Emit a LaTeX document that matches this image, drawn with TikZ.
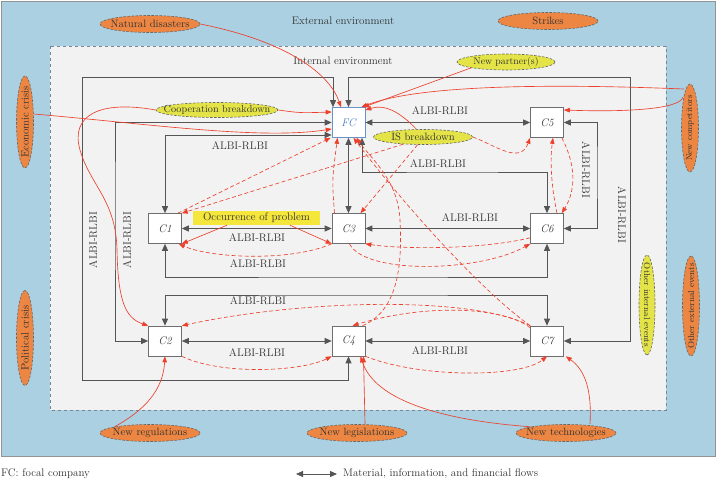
\documentclass[tikz,border=0pt]{standalone}
\usetikzlibrary{arrows.meta,shapes.geometric}
\definecolor{bgblue}{RGB}{170,208,226}
\definecolor{ingray}{RGB}{242,242,242}
\definecolor{lgray}{RGB}{85,85,85}
\definecolor{redc}{RGB}{236,64,44}
\definecolor{orangec}{RGB}{236,134,66}
\definecolor{yellowc}{RGB}{228,228,72}
\definecolor{occy}{RGB}{245,230,60}
\definecolor{txt}{RGB}{50,50,50}
\definecolor{fcblue}{RGB}{70,120,190}
\definecolor{dashb}{RGB}{120,135,150}
\begin{document}
\begin{tikzpicture}[x=1pt,y=-1pt, font=\fontsize{11}{13}\selectfont, text=txt,
 box/.style={draw=lgray!85, fill=white, minimum width=33pt, minimum height=30pt, inner sep=0pt, font=\fontsize{11}{13}\selectfont\itshape, line width=0.6pt},
 flow/.style={draw=lgray, line width=0.8pt, {Triangle[length=7pt,width=6pt]}-{Triangle[length=7pt,width=6pt]}},
 ell/.style={ellipse, draw=gray!80!black, dash pattern=on 2.5pt off 1.5pt, line width=0.6pt, inner sep=0pt},
 ora/.style={ell, fill=orangec},
 yel/.style={ell, fill=yellowc},
 etxt/.style={font=\fontsize{10.6}{12}\selectfont, inner sep=0pt},
 ext/.style={draw=redc, line width=0.65pt, -{Triangle[length=6pt,width=4.5pt]}},
 intd/.style={ext, dash pattern=on 4pt off 2.5pt},
 lab/.style={inner sep=0pt}]
\path[use as bounding box] (0,0) rectangle (717,481);
% environments
\draw[fill=bgblue, draw=gray!85, line width=1pt] (1,2) rectangle (715,456);
\draw[fill=ingray, draw=dashb, dashed, line width=0.8pt] (50,46) rectangle (666,410);
\node[lab] (extenv) at (343,21) {External environment};
\node[lab] (intenv) at (343,61) {Internal environment};

% company nodes
\node[box, draw=fcblue!80, text=fcblue] (FC) at (348.5,122.5) {FC};
\node[box] (C5) at (547,122.5) {C5};
\node[box] (C1) at (165,228.5) {C1};
\node[box] (C3) at (348.5,228.5) {C3};
\node[box] (C6) at (547,228.5) {C6};
\node[box] (C2) at (165,341) {C2};
\node[box] (C4) at (348.5,341) {C4};
\node[box] (C7) at (547,341) {C7};

% grey flows
\draw[flow] (FC.east) -- (C5.west);
\draw[flow] (C1.east) -- (C3.west);
\draw[flow] (C3.east) -- (C6.west);
\draw[flow] (C2.east) -- (C4.west);
\draw[flow] (C4.east) -- (C7.west);
\draw[flow] (FC.south) -- (C3.north);
\draw[flow] (C1.north) |- (FC.west |- 0,135);
\draw[flow] (C2.west) -| (115,200) |- (FC.west);
\draw[flow] (C4.south) |- (82,380) |- (333,77) -- (FC.north -| 333,0);
\draw[flow] (FC.north) |- (630,77) |- (C7.east);
\draw[flow] (C5.east) -| (597,170) |- (C6.east);
\draw[flow] (FC.south -| 362,0) |- (450,172) -| (C6.north);
\draw[flow] (C1.south) |- (350,277) -| (C6.south);
\draw[flow] (C2.north) |- (350,295) -| (C7.north);

% flow labels
\node[lab] (t1) at (440,111) {ALBI-RLBI};
\node[lab] (t2) at (240,146) {ALBI-RLBI};
\node[lab] (t3) at (438,164) {ALBI-RLBI};
\node[lab] (t4) at (257,238) {ALBI-RLBI};
\node[lab] (t5) at (470,218) {ALBI-RLBI};
\node[lab] (t6) at (258,264) {ALBI-RLBI};
\node[lab] (t7) at (258,301) {ALBI-RLBI};
\node[lab] (t8) at (257,353) {ALBI-RLBI};
\node[lab] (t9) at (440,351) {ALBI-RLBI};
\node[lab, rotate=90] (t10) at (93,240) {ALBI-RLBI};
\node[lab, rotate=90] (t11) at (127,240) {ALBI-RLBI};
\node[lab, rotate=-90] (t12) at (586,170) {ALBI-RLBI};
\node[lab, rotate=-90] (t13) at (622,215) {ALBI-RLBI};

% occurrence of problem
\node[fill=occy, minimum width=127pt, minimum height=14pt, inner sep=0pt, font=\fontsize{11}{13}\selectfont] (occ) at (256.5,218) {Occurrence of problem};

% event ellipses
\node[ora, minimum width=100pt, minimum height=17pt] (nat) at (150,24) {};
\node[etxt] (natt) at (nat) {Natural disasters};
\node[ora, minimum width=100pt, minimum height=17pt] (str) at (548,21) {};
\node[etxt] (strt) at (str) {Strikes};
\node[ora, minimum width=92pt, minimum height=17pt, rotate=90] (eco) at (25,122) {};
\node[etxt, rotate=90] (ecot) at (eco) {Economic crisis};
\node[ora, minimum width=95pt, minimum height=17pt, rotate=90] (pol) at (25,338) {};
\node[etxt, rotate=90] (polt) at (pol) {Political crisis};
\node[ora, minimum width=100pt, minimum height=17pt] (reg) at (150,433) {};
\node[etxt] (regt) at (reg) {New regulations};
\node[ora, minimum width=100pt, minimum height=17pt] (leg) at (357,433) {};
\node[etxt] (legt) at (leg) {New legislations};
\node[ora, minimum width=100pt, minimum height=17pt] (tech) at (566,433) {};
\node[etxt] (techt) at (tech) {New technologies};
\node[ora, minimum width=88pt, minimum height=17pt, rotate=90] (comp) at (690,128) {};
\node[etxt, rotate=90, font=\fontsize{8.6}{10}\selectfont] (compt) at (comp) {New competitors};
\node[ora, minimum width=100pt, minimum height=17pt, rotate=90] (oext) at (691,306) {};
\node[etxt, rotate=90, font=\fontsize{8.8}{10}\selectfont] (oextt) at (oext) {Other external events};
\node[yel, minimum width=122pt, minimum height=15pt] (coop) at (217,110) {};
\node[etxt, font=\fontsize{10.2}{12}\selectfont] (coopt) at (coop) {Cooperation breakdown};
\node[yel, minimum width=98pt, minimum height=16pt] (np) at (506,62) {};
\node[etxt, font=\fontsize{9.8}{11}\selectfont] (npt) at (np) {New partner(s)};
\node[yel, minimum width=99pt, minimum height=15pt] (isb) at (423,137) {};
\node[etxt] (isbt) at (isb) {IS breakdown};
\node[yel, minimum width=100pt, minimum height=16pt, rotate=-90] (oint) at (647,305) {};
\node[etxt, rotate=-90, font=\fontsize{8.8}{10}\selectfont] (ointt) at (oint) {Other internal events};

% external / internal event impacts (solid)
\draw[ext] (nat.east) .. controls (290,42) and (330,75) .. (FC.north -| 341,0);
\draw[ext] ([yshift=8pt]eco.south) .. controls (150,124) and (260,140) .. (FC.west |- 0,129);
\draw[ext] (coop.east) .. controls (300,113) .. (FC.west |- 0,112);
\draw[ext] (coop.west) .. controls (100,100) and (70,115) .. (80,150) .. controls (90,185) and (116,200) .. (117,250) .. controls (118,300) and (125,318) .. (C2.north west);
\draw[ext] (np.south west) -- ([xshift=-2pt]FC.north east);
\draw[ext] (684,89) .. controls (560,84) and (420,84) .. ([xshift=-4pt]FC.north east);
\draw[ext] (683,97) .. controls (680,110) and (620,112) .. (C5.east |- 0,110);
\draw[ext] (isb.130) .. controls (400,112) and (385,104) .. (FC.east |- 0,110);
\draw[ext] (occ.south -| 227,0) -- (C1.south east);
\draw[ext] (occ.south -| 290,0) -- (C3.south west);
\draw[ext] (reg.north west) .. controls (145,410) and (163,390) .. (C2.south);
\draw[ext] ([xshift=8pt]leg.north) -- ([xshift=15pt]C4.south);
\draw[ext] (tech.north west) .. controls (440,420) and (375,400) .. ([xshift=12pt]C4.south);
\draw[ext] ([xshift=24pt]tech.north) .. controls (592,390) and (585,370) .. ([xshift=2pt]C7.south east);

% propagation (dashed)
\draw[intd] ([xshift=-4pt]C1.north east) -- ([xshift=-1pt]FC.south west);
\draw[intd] (isb.200) -- (C1.north east);
\draw[intd] ([xshift=-14pt]C3.north) .. controls (332,180) .. ([xshift=-11pt]FC.south);
\draw[intd] (isb.235) -- ([xshift=12pt]C3.north);
\draw[intd] ([xshift=14pt]C4.north) .. controls (400,310) and (402,260) .. (400,220) .. controls (398,180) and (372,160) .. ([xshift=8pt]FC.south);
\draw[intd] (C7.north west) .. controls (480,290) and (400,200) .. ([xshift=5pt]FC.south);
\draw[intd] (isb.east) .. controls (495,145) and (520,165) .. (C5.south west);
\draw[intd] ([xshift=-2pt]C5.south east) .. controls (576,165) and (576,190) .. ([xshift=-2pt]C6.north east);
\draw[intd] ([xshift=10pt]C6.north) .. controls (551,185) and (550,160) .. ([xshift=6pt]C5.south);
\draw[intd] ([yshift=6pt]C6.south west) .. controls (480,250) and (400,249) .. (C3.south east);
\draw[intd] ([xshift=1pt]C3.south) .. controls (365,275) and (480,272) .. (C6.south west);
\draw[intd] (C3.south west) .. controls (290,262) and (210,258) .. ([xshift=-3pt]C1.south east);
\draw[intd] (C7.north west) .. controls (470,295) and (300,300) .. (C2.north east);
\draw[intd] ([yshift=-2pt]C7.north west) .. controls (500,305) and (420,305) .. ([xshift=4pt]C4.north);
\draw[intd] (C2.south east) .. controls (220,375) and (300,372) .. (C4.south west);
\draw[intd] (C4.south east) .. controls (420,378) and (520,378) .. (C7.south);

% legend
\coordinate (lg1) at (296,474);
\coordinate (lg2) at (337,474);
\draw[flow] (lg1) -- (lg2);
\node[lab, anchor=west] (lgt) at (343,474) {Material, information, and financial flows};
\node[lab, anchor=west] (fcl) at (1,474) {FC: focal company};
\end{tikzpicture}
\end{document}
